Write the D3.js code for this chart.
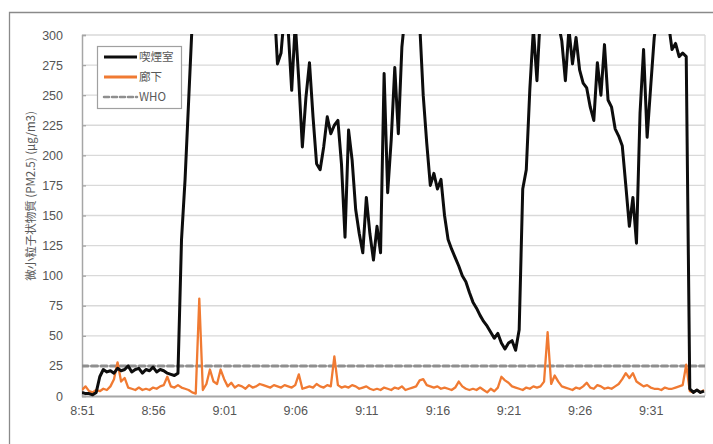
<!DOCTYPE html>
<html>
<head>
<meta charset="utf-8">
<script src="https://cdn.jsdelivr.net/npm/d3@7"></script>
<style>
  html, body { margin: 0; padding: 0; background: #fff; }
  svg { display: block; }
  text { font-family: "Liberation Sans", Arial, sans-serif; }
</style>
</head>
<body>
<svg id="chart" width="713" height="444"></svg>
<script>
// PM2.5 readings, one sample every 15 seconds from 8:51:00
const startTime = "08:51:00";
const stepSeconds = 15;

// 喫煙室 (smoking room), µg/m3
const smokingRoom = [
  3, 2, 2, 1, 3, 16, 22, 20, 21, 19,
  23, 21, 22, 25, 20, 22, 23, 19, 22, 21,
  24, 20, 22, 21, 19, 18, 17, 19, 130, 180,
  245, 310, 350, 380, 400, 420, 390, 370, 400, 430,
  410, 380, 360, 390, 420, 400, 380, 370, 360, 380,
  370, 350, 360, 340, 330, 276, 285, 320, 305, 254,
  310, 262, 207, 248, 277, 232, 193, 188, 207, 232,
  218, 225, 229, 193, 132, 221, 196, 155, 135, 119,
  165, 135, 113, 141, 119, 268, 169, 213, 273, 218,
  290, 320, 360, 380, 350, 310, 250, 210, 175, 185,
  172, 180, 150, 130, 122, 115, 108, 100, 95, 86,
  78, 73, 67, 62, 58, 53, 48, 52, 44, 39,
  44, 46, 38, 55, 172, 188, 255, 305, 262, 320,
  360, 380, 370, 340, 310, 295, 262, 305, 276, 298,
  271, 260, 256, 240, 229, 277, 250, 292, 246, 240,
  222, 216, 208, 175, 141, 165, 127, 235, 288, 215,
  257, 298, 320, 350, 340, 310, 288, 293, 282, 285,
  282, 6, 3, 5, 3, 4
];

// 廊下 (corridor), µg/m3
const corridor = [
  5, 8, 4, 3, 5, 4, 6, 5, 8, 14,
  28, 12, 15, 7, 6, 5, 7, 5, 6, 5,
  7, 6, 8, 9, 16, 8, 7, 9, 7, 6,
  5, 3, 2, 81, 5, 10, 22, 12, 10, 22,
  14, 8, 11, 7, 9, 8, 6, 9, 7, 8,
  10, 9, 8, 7, 9, 8, 7, 9, 8, 7,
  9, 18, 6, 7, 8, 7, 10, 8, 7, 9,
  8, 33, 9, 7, 8, 7, 9, 8, 6, 7,
  8, 6, 5, 6, 5, 7, 6, 5, 7, 6,
  8, 5, 6, 7, 8, 13, 14, 9, 8, 7,
  8, 6, 7, 6, 5, 7, 12, 8, 6, 5,
  6, 5, 7, 5, 3, 6, 4, 7, 16, 13,
  11, 8, 7, 6, 5, 7, 6, 8, 7, 8,
  12, 53, 10, 17, 12, 8, 7, 6, 5, 7,
  6, 8, 11, 7, 6, 9, 8, 6, 7, 6,
  8, 10, 14, 19, 15, 19, 12, 10, 8, 9,
  7, 6, 6, 5, 7, 6, 6, 7, 8, 9,
  26, 4, 3, 5, 3, 5
];

// WHO guideline level
const whoLevel = 25;

const yTicks = [0, 25, 50, 75, 100, 125, 150, 175, 200, 225, 250, 275, 300];
const xTickLabels = ["8:51", "8:56", "9:01", "9:06", "9:11", "9:16", "9:21", "9:26", "9:31"];
const seriesNames = ["喫煙室", "廊下", "WHO"];
const yTitle = "微小粒子状物質 (PM2.5) (μg/m3)";

const svg = d3.select("#chart");
const W = 713, H = 444;
const plot = { left: 82, right: 705, top: 35, bottom: 396 };

const parse = d3.timeParse("%H:%M:%S");
const t0 = parse(startTime);
const timeAt = i => new Date(t0.getTime() + i * stepSeconds * 1000);
const n = smokingRoom.length;

const x = d3.scaleTime()
  .domain([t0, timeAt(n - 1)])
  .range([plot.left, plot.right - 1]);
const y = d3.scaleLinear().domain([0, 300]).range([plot.bottom, plot.top]);

// outer frame
svg.append("path")
  .attr("d", `M9.5,${H} L9.5,12.5 L${W},12.5`)
  .attr("fill", "none").attr("stroke", "#8a8a8a").attr("stroke-width", 1.3);

// gridlines
svg.append("g").selectAll("line").data(yTicks.filter(d => d > 0)).join("line")
  .attr("x1", plot.left).attr("x2", plot.right)
  .attr("y1", d => y(d)).attr("y2", d => y(d))
  .attr("stroke", "#d9d9d9").attr("stroke-width", 1.3);

// right border of plot area
svg.append("line")
  .attr("x1", plot.right).attr("x2", plot.right)
  .attr("y1", plot.top).attr("y2", plot.bottom)
  .attr("stroke", "#d9d9d9").attr("stroke-width", 1.3);

// y axis
const yAxis = d3.axisLeft(y).tickValues(yTicks).tickSize(-4).tickPadding(19);
const gy = svg.append("g").attr("transform", `translate(${plot.left},0)`).call(yAxis);
gy.select(".domain").attr("stroke", "#a6a6a6").attr("stroke-width", 1.5);
gy.selectAll(".tick line").attr("stroke", "#a6a6a6").attr("stroke-width", 1.3);
gy.selectAll(".tick text").attr("fill", "#555").style("font-size", "12.5px")
  .style("font-family", "'Liberation Sans', Arial, sans-serif");

// x axis
const parseHM = d3.timeParse("%H:%M");
const xAxis = d3.axisBottom(x)
  .tickValues(xTickLabels.map(parseHM))
  .tickFormat(d3.timeFormat("%-H:%M"))
  .tickSize(0).tickPadding(10);
const gx = svg.append("g").attr("transform", `translate(0,${plot.bottom})`).call(xAxis);
gx.select(".domain").attr("stroke", "#a6a6a6").attr("stroke-width", 2)
  .attr("d", `M${plot.left},0.5H${plot.right}`);
gx.selectAll(".tick text").attr("fill", "#555").style("font-size", "12.5px")
  .style("font-family", "'Liberation Sans', Arial, sans-serif");

// y title
svg.append("text")
  .attr("transform", `translate(35,196) rotate(-90)`)
  .attr("text-anchor", "middle")
  .attr("fill", "#595959")
  .style("font-size", "11.5px")
  .style("font-family", "'Noto Sans CJK JP', sans-serif")
  .text(yTitle);

// clip lines to the plot area
svg.append("clipPath").attr("id", "plotClip")
  .append("rect")
  .attr("x", plot.left).attr("y", plot.top - 1)
  .attr("width", plot.right - plot.left).attr("height", plot.bottom - plot.top + 2);

const lineGen = d3.line()
  .x((d, i) => x(timeAt(i)))
  .y(d => y(d));

const lines = svg.append("g").attr("clip-path", "url(#plotClip)");

// WHO guideline
lines.append("line")
  .attr("x1", plot.left).attr("x2", plot.right)
  .attr("y1", y(whoLevel)).attr("y2", y(whoLevel))
  .attr("stroke", "#8f8f8f").attr("stroke-width", 3)
  .attr("stroke-dasharray", "6,3.5").attr("stroke-linecap", "round");

lines.append("path").datum(corridor)
  .attr("d", lineGen)
  .attr("fill", "none").attr("stroke", "#f07a32").attr("stroke-width", 2.3)
  .attr("stroke-linejoin", "round");

lines.append("path").datum(smokingRoom)
  .attr("d", lineGen)
  .attr("fill", "none").attr("stroke", "#0d0d0d").attr("stroke-width", 3)
  .attr("stroke-linejoin", "round");

// legend
const lg = svg.append("g").attr("transform", "translate(97,46)");
lg.append("rect").attr("x", 0.5).attr("y", 0.5).attr("width", 84).attr("height", 62)
  .attr("fill", "#fff").attr("stroke", "#a0a0a0").attr("stroke-width", 1.2);
const legendStyles = [
  { stroke: "#0d0d0d", width: 3, dash: null },
  { stroke: "#f07a32", width: 3, dash: null },
  { stroke: "#8f8f8f", width: 2.5, dash: "5,3" }
];
seriesNames.forEach((name, k) => {
  const cy = 11 + k * 20;
  const st = legendStyles[k];
  lg.append("line")
    .attr("x1", 7).attr("x2", 40).attr("y1", cy).attr("y2", cy)
    .attr("stroke", st.stroke).attr("stroke-width", st.width)
    .attr("stroke-dasharray", st.dash).attr("stroke-linecap", st.dash ? "round" : "butt");
  lg.append("text")
    .attr("x", 42).attr("y", cy + 4)
    .attr("fill", "#595959")
    .style("font-size", "11.5px")
    .style("font-family", "'Noto Sans CJK JP', sans-serif")
    .text(name);
});
</script>
</body>
</html>
